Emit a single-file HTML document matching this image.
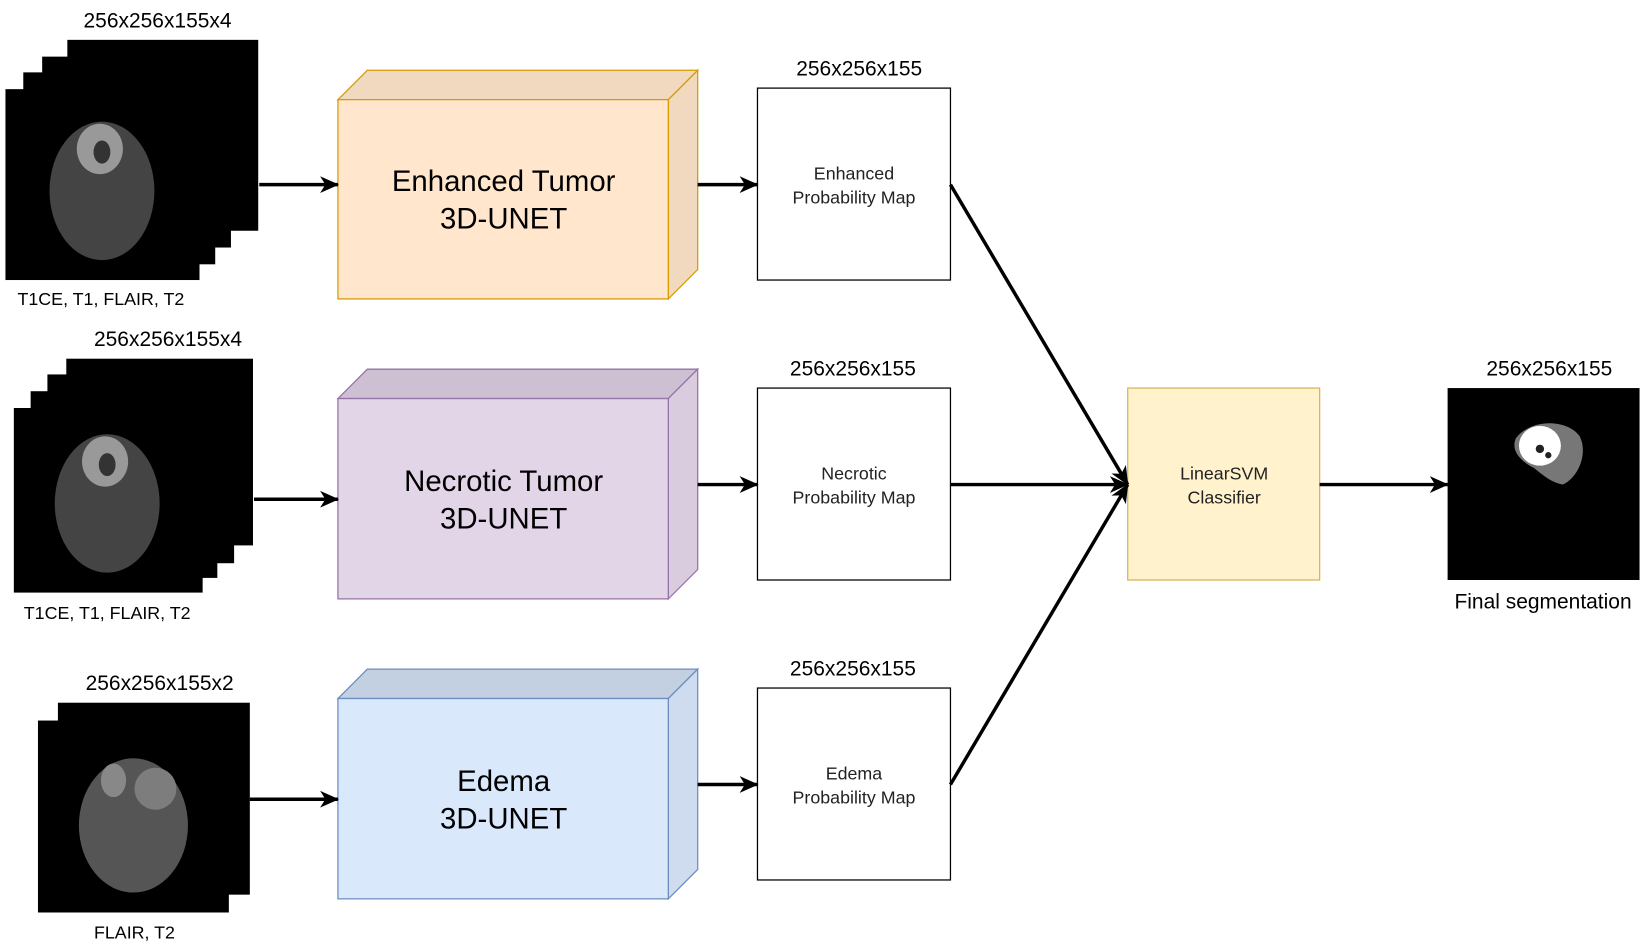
<!DOCTYPE html>
<html><head><meta charset="utf-8"><style>html,body{margin:0;padding:0;background:#fff}svg{display:block}</style></head>
<body>
<svg width="1645" height="945" viewBox="0 0 1568 901" xmlns="http://www.w3.org/2000/svg" font-family="Liberation Sans, Arial, sans-serif">
<defs>
<marker id="b" markerWidth="18" markerHeight="16" refX="17" refY="8" orient="auto" markerUnits="userSpaceOnUse"><path d="M0,0 L18,8 L0,16 L5,8 z" fill="#000"/></marker>
</defs>
<!-- Row 1 stack -->
<rect x="64" y="38" width="182" height="182" fill="#000"/>
<rect x="40" y="54" width="180" height="182" fill="#000"/>
<rect x="22" y="69" width="183" height="183" fill="#000"/>
<rect x="5" y="85" width="185" height="182" fill="#000"/>
<ellipse cx="97" cy="182" rx="50" ry="66" fill="#444"/>
<ellipse cx="95" cy="142" rx="22" ry="24" fill="#999"/>
<ellipse cx="97" cy="145" rx="8" ry="11" fill="#333"/>
<text x="150" y="26" font-size="20" text-anchor="middle">256x256x155x4</text>
<text x="96" y="291" font-size="17" text-anchor="middle">T1CE, T1, FLAIR, T2</text>
<!-- Row 2 stack -->
<rect x="63" y="342" width="178" height="178" fill="#000"/>
<rect x="45" y="357" width="178" height="180" fill="#000"/>
<rect x="29" y="373" width="178" height="178" fill="#000"/>
<rect x="13" y="389" width="180" height="176" fill="#000"/>
<ellipse cx="102" cy="480" rx="50" ry="66" fill="#444"/>
<ellipse cx="100" cy="440" rx="22" ry="24" fill="#999"/>
<ellipse cx="102" cy="443" rx="8" ry="11" fill="#333"/>
<text x="160" y="330" font-size="20" text-anchor="middle">256x256x155x4</text>
<text x="102" y="590" font-size="17" text-anchor="middle">T1CE, T1, FLAIR, T2</text>
<!-- Row 3 stack -->
<rect x="55" y="670" width="183" height="183" fill="#000"/>
<rect x="36" y="687" width="182" height="183" fill="#000"/>
<ellipse cx="127" cy="787" rx="52" ry="64" fill="#555"/>
<ellipse cx="108" cy="744" rx="12" ry="16" fill="#888"/>
<ellipse cx="148" cy="752" rx="20" ry="20" fill="#7d7d7d"/>
<text x="152" y="658" font-size="20" text-anchor="middle">256x256x155x2</text>
<text x="128" y="895" font-size="17" text-anchor="middle">FLAIR, T2</text>
<!-- 3D boxes -->
<g stroke-width="1.2">
<polygon points="322,95 350,67 665,67 637,95" fill="#f0d9bf" stroke="#d79b00"/>
<polygon points="637,95 665,67 665,257 637,285" fill="#f0d9bf" stroke="#d79b00"/>
<rect x="322" y="95" width="315" height="190" fill="#ffe6cc" stroke="#d79b00"/>
<polygon points="322,380 350,352 665,352 637,380" fill="#ccc0d2" stroke="#9673a6"/>
<polygon points="637,380 665,352 665,543 637,571" fill="#d8ccde" stroke="#9673a6"/>
<rect x="322" y="380" width="315" height="191" fill="#e1d5e7" stroke="#9673a6"/>
<polygon points="322,666 350,638 665,638 637,666" fill="#c3d0e2" stroke="#6c8ebf"/>
<polygon points="637,666 665,638 665,829 637,857" fill="#cfdcef" stroke="#6c8ebf"/>
<rect x="322" y="666" width="315" height="191" fill="#dae8fc" stroke="#6c8ebf"/>
</g>
<g font-size="28" text-anchor="middle">
<text x="480" y="182">Enhanced Tumor</text><text x="480" y="218">3D-UNET</text>
<text x="480" y="468">Necrotic Tumor</text><text x="480" y="504">3D-UNET</text>
<text x="480" y="754">Edema</text><text x="480" y="790">3D-UNET</text>
</g>
<!-- prob maps -->
<g fill="#fff" stroke="#000" stroke-width="1.2">
<rect x="722" y="84" width="184" height="183"/>
<rect x="722" y="370" width="184" height="183"/>
<rect x="722" y="656" width="184" height="183"/>
</g>
<g font-size="20" text-anchor="middle">
<text x="819" y="72">256x256x155</text>
<text x="813" y="358">256x256x155</text>
<text x="813" y="644">256x256x155</text>
<text x="1477" y="358">256x256x155</text>
<text x="1471" y="580">Final segmentation</text>
</g>
<g font-size="17" text-anchor="middle" fill="#222">
<text x="814" y="171">Enhanced</text><text x="814" y="194">Probability Map</text>
<text x="814" y="457">Necrotic</text><text x="814" y="480">Probability Map</text>
<text x="814" y="743">Edema</text><text x="814" y="766">Probability Map</text>
</g>
<rect x="1075" y="370" width="183" height="183" fill="#fff2cc" stroke="#d6b656" stroke-width="1.2"/>
<text x="1167" y="457" font-size="17" text-anchor="middle" fill="#222">LinearSVM</text><text x="1167" y="480" font-size="17" text-anchor="middle" fill="#222">Classifier</text>
<rect x="1380" y="370" width="183" height="183" fill="#000"/>
<path d="M1445,418 C1460,398 1495,400 1506,416 C1514,432 1505,455 1490,462 C1478,460 1470,452 1462,446 C1450,440 1440,430 1445,418 z" fill="#777"/>
<ellipse cx="1468" cy="425" rx="20" ry="19" fill="#fff"/>
<circle cx="1468" cy="428" r="4" fill="#222"/>
<circle cx="1476" cy="434" r="3" fill="#222"/>
<!-- arrows -->
<g stroke="#000" stroke-width="3.3" fill="none" marker-end="url(#b)">
<line x1="247" y1="176" x2="322" y2="176"/>
<line x1="242" y1="476" x2="322" y2="476"/>
<line x1="238" y1="762" x2="322" y2="762"/>
<line x1="665" y1="176" x2="722" y2="176"/>
<line x1="665" y1="462" x2="722" y2="462"/>
<line x1="665" y1="748" x2="722" y2="748"/>
<line x1="906" y1="176" x2="1075" y2="462"/>
<line x1="906" y1="462" x2="1075" y2="462"/>
<line x1="906" y1="748" x2="1075" y2="462"/>
<line x1="1258" y1="462" x2="1380" y2="462"/>
</g>
</svg>
</body></html>
